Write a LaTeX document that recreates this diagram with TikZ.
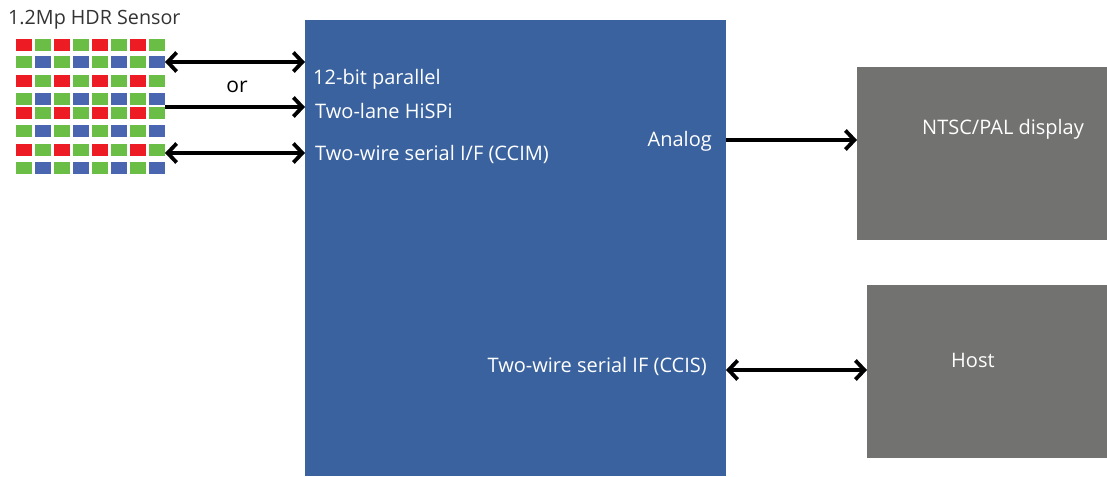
\documentclass[tikz,border=0pt]{standalone}
\usepackage{fontspec}
\setmainfont{Open Sans}
\usetikzlibrary{arrows.meta}
\definecolor{mainblue}{RGB}{58,98,158}
\definecolor{boxgray}{RGB}{114,114,113}
\definecolor{pxred}{RGB}{237,28,36}
\definecolor{pxgreen}{RGB}{107,190,69}
\definecolor{pxblue}{RGB}{74,102,176}
\definecolor{titlegray}{RGB}{51,51,51}
\tikzset{
  blk/.style={draw=none,inner sep=0pt,outer sep=0pt,anchor=north west},
  lbl/.style={text=white,font=\fontsize{20}{24}\selectfont,inner sep=0pt},
  link/.style={line width=4.5pt,-{Straight Barb[length=9pt,width=19pt,line width=3.8pt]}},
  blink/.style={line width=4.5pt,{Straight Barb[length=9pt,width=19pt,line width=3.8pt]}-{Straight Barb[length=9pt,width=19pt,line width=3.8pt]}},
  px/.style={inner sep=0pt,outer sep=0pt,minimum width=16pt,minimum height=12pt,anchor=north west}
}
\begin{document}
\begin{tikzpicture}[x=1pt,y=-1pt]
\useasboundingbox (0,0) rectangle (1107,476);
% main box
\node[blk,fill=mainblue,minimum width=421pt,minimum height=456pt] (main) at (305,20) {};
\node[blk,fill=boxgray,minimum width=250pt,minimum height=173pt] (ntsc) at (857,67) {};
\node[blk,fill=boxgray,minimum width=240pt,minimum height=173pt] (host) at (867,285) {};
% sensor grid
\foreach \r/\y in {0/39,1/56,2/75,3/93,4/107,5/125,6/144,7/162}{
  \foreach \c in {0,...,7}{
    \pgfmathtruncatemacro{\ev}{mod(\r,2)}
    \pgfmathtruncatemacro{\cv}{mod(\c,2)}
    \ifnum\ev=0
      \ifnum\cv=0 \def\col{pxred}\else\def\col{pxgreen}\fi
    \else
      \ifnum\cv=0 \def\col{pxgreen}\else\def\col{pxblue}\fi
    \fi
    \node[px,fill=\col] (p\r\c) at ({16+19*\c},\y) {};
  }
}
\node[blk,minimum width=149pt,minimum height=135pt] (sensor) at (16,39) {};
\node[anchor=base west,inner sep=0pt,text=titlegray,font=\fontsize{19.7}{22}\selectfont] (title) at (8,25) {1.2Mp HDR Sensor};
\node[anchor=base,inner sep=0pt,font=\fontsize{21}{24}\selectfont] (or) at (237,93) {or};
% labels
\node[lbl,anchor=base west] (par) at (313,85) {12-bit parallel};
\node[lbl,anchor=base west] (hispi) at (315,118) {Two-lane HiSPi};
\node[lbl,anchor=base west] (ccim) at (315,160) {Two-wire serial I/F (CCIM)};
\node[lbl,anchor=base east] (analog) at (712,146) {Analog};
\node[lbl,anchor=base east] (ccis) at (707,372) {Two-wire serial IF (CCIS)};
\node[lbl,anchor=base west] (ntsct) at (922,135) {NTSC/PAL display};
\node[lbl,anchor=base west] (hostt) at (951,367) {Host};
% connectors
\draw[blink] (sensor.east |- 0,62) -- (main.west |- 0,62);
\draw[link] (sensor.east |- 0,107) -- (main.west |- 0,107);
\draw[blink] (sensor.east |- 0,153) -- (main.west |- 0,153);
\draw[link] (main.east |- 0,140) -- (ntsc.west |- 0,140);
\draw[blink] (main.east |- 0,370) -- (host.west |- 0,370);
\end{tikzpicture}
\end{document}
